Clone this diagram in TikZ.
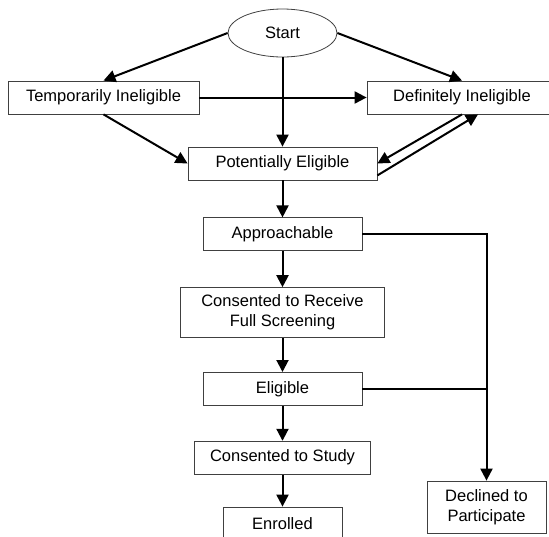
\documentclass[tikz,border=0pt]{standalone}
\usepackage{fontspec}
\setmainfont{Liberation Sans}
\usetikzlibrary{positioning,shapes.geometric,arrows.meta}

\begin{document}
\begin{tikzpicture}[
                x=1pt,y=-1pt,
                node distance=36pt,
                font=\fontsize{16.5}{20}\selectfont,
                every node/.append style={draw=black!75,line width=0.8pt,inner sep=2pt,minimum height=33pt,align=center},
                flow/.style={line width=2pt,-{Triangle[length=12pt,width=12pt]}}
            ]
                \useasboundingbox (0,0) rectangle (549,536);
                \node (S)  [ellipse,minimum width=109pt,minimum height=48pt,inner sep=0pt] at (282.5,33) {Start};
                \node (TI) [minimum width=191pt] at (103.5,97.5)  {Temporarily Ineligible};
                \node (DI) [minimum width=190pt] at (462,97.5)    {Definitely Ineligible};
                \node (PE) [minimum width=189pt] at (282.5,163.5) {Potentially Eligible};
                \node (AP) [below=37pt of PE,minimum width=159pt] {Approachable};
                \node (CR) [below=of AP,minimum width=204pt,minimum height=50pt] {Consented to Receive\\Full Screening};
                \node (EL) [below=34pt of CR,minimum width=159pt] {Eligible};
                \node (CS) [below=35pt of EL,minimum width=176pt] {Consented to Study};
                \node (EN) [below=32pt of CS,minimum width=119pt] {Enrolled};
                \node (DP) [minimum width=119pt,minimum height=52pt] at (486.5,507) {Declined to\\Participate};
                \coordinate (J) at (EL.east -| DP.north);
                \draw[flow] (S.west) -- (TI.north);
                \draw[flow] (S.east) -- (DI.north);
                \draw[flow] (S.south) -- (PE.north);
                \draw[flow] (TI.east) -- (DI.west);
                \draw[flow] (TI.south) -- (PE.west);
                \draw[flow] (DI.south) -- (PE.east);
                \draw[flow] ([yshift=5pt]PE.south east) -- ([xshift=16pt]DI.south);
                \draw[flow] (PE) -- (AP);
                \draw[flow] (AP) -- (CR);
                \draw[flow] (CR) -- (EL);
                \draw[flow] (EL) -- (CS);
                \draw[flow] (CS) -- (EN);
                \draw[flow] (AP.east) -| (DP.north);
                \draw[line width=2pt] (EL.east) -- (J);
            \end{tikzpicture}
\end{document}
